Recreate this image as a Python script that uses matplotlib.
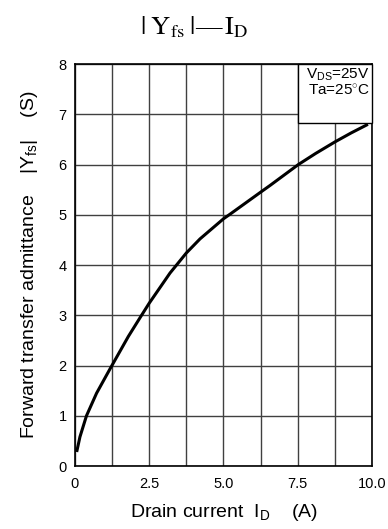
import matplotlib.pyplot as plt
from matplotlib.patches import Rectangle

plt.rcParams['font.family'] = ['Liberation Sans', 'DejaVu Sans']
plt.rcParams['mathtext.fontset'] = 'custom'
plt.rcParams['mathtext.rm'] = 'Liberation Sans'
plt.rcParams['mathtext.it'] = 'Liberation Sans'

# drain current (A) vs forward transfer admittance (S)
drain_current = [0.06, 0.17, 0.39, 0.73, 1.16, 1.8, 2.19, 2.5, 3.2, 3.75,
                 4.21, 5.0, 5.24, 6.25, 6.57, 7.52, 8.1, 8.75, 9.3, 9.86]
admittance = [0.28, 0.58, 1.0, 1.45, 1.91, 2.58, 2.95, 3.24, 3.84, 4.24,
              4.52, 4.92, 5.02, 5.45, 5.585, 6.0, 6.22, 6.45, 6.63, 6.8]

x_ticks = [0, 2.5, 5.0, 7.5, 10.0]
x_tick_labels = ['0', '2.5', '5.0', '7.5', '10.0']
x_grid = [1.25 * i for i in range(9)]
y_ticks = list(range(9))

fig = plt.figure(figsize=(3.88, 5.29), dpi=100)
ax = fig.add_axes([0.193, 0.119, 0.766, 0.760])

for gx in x_grid:
    ax.axvline(gx, color='#404040', lw=1.0, zorder=1)
for gy in y_ticks:
    ax.axhline(gy, color='#404040', lw=1.0, zorder=1)

ax.plot(drain_current, admittance, color='black', lw=2.2, zorder=3,
        solid_capstyle='butt', solid_joinstyle='round')

ax.set_xlim(0, 10)
ax.set_ylim(0, 8)
ax.set_xticks(x_ticks)
ax.set_xticklabels(x_tick_labels)
ax.set_yticks(y_ticks)
ax.tick_params(length=0, labelsize=10.5)
ax.tick_params(axis='x', pad=8)
ax.tick_params(axis='y', pad=6)
for s in ax.spines.values():
    s.set_linewidth(1.2)

# condition box in upper right corner
ax.add_patch(Rectangle((7.5, 6.82), 2.5, 1.18, facecolor='white',
                       edgecolor='black', lw=1.0, zorder=4, clip_on=False))
ax.text(9.93, 7.94, '$\\mathrm{V_{DS}}$=25V\nTa=25$^{\\circ}$C', ha='right',
        va='top', fontsize=11, zorder=5, linespacing=1.0)

ax.set_xlabel('Drain current  $\\mathrm{I_D}$    (A)', fontsize=14, labelpad=8)
ax.set_ylabel('Forward transfer admittance    $\\mathrm{|Y_{fs}|}$    (S)',
              fontsize=14, labelpad=13)

fig.text(0.5, 0.949, '$|\\;\\mathrm{Y_{fs}}\\;|$\u2014$\\,\\mathrm{I_D}$',
         ha='center', va='center', fontsize=19, family='Liberation Serif',
         math_fontfamily='stix')

fig.savefig('out.png', dpi=100)
